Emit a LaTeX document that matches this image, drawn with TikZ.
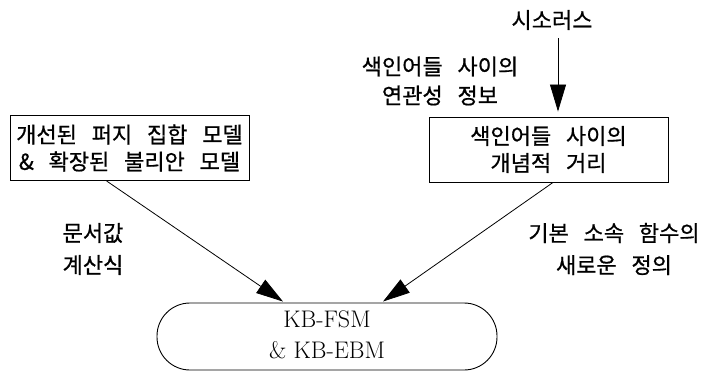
\documentclass[tikz,border=0pt]{standalone}
\usepackage{fontspec}
\newfontfamily\kr[WordSpace=3,FakeBold=0.8]{Noto Sans CJK KR}
\usetikzlibrary{arrows.meta,calc}
\begin{document}
\begin{tikzpicture}[x=1pt,y=-1pt,
  kt/.style={font=\kr\fontsize{22}{29}\selectfont, align=center, inner sep=0pt},
  boxed/.style={draw, line width=0.9pt, minimum width=239pt, minimum height=65pt, align=center, inner sep=0pt, font=\kr\fontsize{22}{27}\selectfont},
  finalbox/.style={draw, line width=0.9pt, rounded corners=33pt, minimum width=340pt, minimum height=67pt, inner sep=0pt, font=\fontsize{24}{31}\selectfont},
  arr/.style={-{Triangle[length=27pt,width=16pt]}, line width=0.8pt}]
\useasboundingbox (0,0) rectangle (703,372);
\node[boxed] (lbox) at (129.5,148) {개선된 퍼지 집합 모델\\\& 확장된 불리안 모델};
\node[boxed] (rbox) at (548.5,149.5) {색인어들 사이의\\개념적 거리};
\node[finalbox] (bot) at (327,336.5) {\raisebox{-5pt}{\begin{tabular}{@{}c@{}}KB-FSM\\\& KB-EBM\end{tabular}}};
\node[kt] (thes) at (552,20) {시소러스};
\node[kt] (rel) at (440,81) {색인어들 사이의\\연관성 정보};
\node[kt, font=\kr\fontsize{22}{32}\selectfont] (doc) at (93,249) {문서값\\계산식};
\node[kt, font=\kr\fontsize{22}{32}\selectfont] (memb) at (614,249) {기본 소속 함수의\\새로운 정의};
\draw[arr] ($(thes.south)+(6,8)$) -- ($(rbox.north)+(9.5,-5)$);
\draw[arr] ($(lbox.south west)+(97,0)$) -- ($(bot.north)+(-44,-1)$);
\draw[arr] ($(rbox.south)+(4.5,0)$) -- ($(bot.north)+(56,-1)$);
\end{tikzpicture}
\end{document}
